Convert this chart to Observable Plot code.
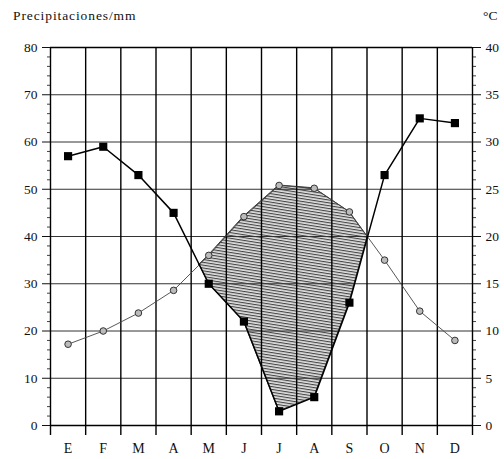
<!DOCTYPE html>
<html><head><meta charset="utf-8">
<script src="https://cdn.jsdelivr.net/npm/d3@7"></script>
<script src="https://cdn.jsdelivr.net/npm/@observablehq/plot@0.6"></script>
<style>
body{margin:0;background:#fff;}
#wrap{position:relative;width:504px;height:459px;}
.lbl{position:absolute;font-family:"Liberation Serif","Times New Roman","DejaVu Serif",serif;font-size:13.5px;color:#111;}
svg{position:absolute;left:0;top:0;}
</style></head>
<body><div id="wrap">
<div class="lbl" id="t1" style="left:13px;top:8px;letter-spacing:0.9px;">Precipitaciones/mm</div>
<div class="lbl" id="t2" style="left:483px;top:8px;">°C</div>
</div>
<script>
const months = ["E","F","M","A","M","J","J","A","S","O","N","D"];
const precip = [57,59,53,45,30,22,3,6,26,53,65,64];
const temp = [8.6,10,11.9,14.3,18,22.1,25.4,25.1,22.6,17.5,12.1,9];
const leftTicks = [0,10,20,30,40,50,60,70,80];

const rows = months.map((m,i)=>({x:i+0.5, m, p:precip[i], t2:temp[i]*2, t:temp[i]}));
const dry = [];
for (let i=0;i<rows.length;i++){
  const a = rows[i];
  if (a.t2 >= a.p) dry.push({x:a.x, p:a.p, t2:a.t2});
  if (i<rows.length-1){
    const b = rows[i+1];
    const da = a.t2-a.p, db = b.t2-b.p;
    if (da*db<0){
      const f = da/(da-db);
      const v = a.p + f*(b.p-a.p);
      dry.push({x:a.x+f, p:v, t2:v});
    }
  }
}
const FONT = "'Liberation Serif', 'Times New Roman', 'DejaVu Serif', serif";
const chart = Plot.plot({
  width:504, height:459,
  marginLeft:50, marginRight:32, marginTop:47, marginBottom:34,
  style:{fontFamily:FONT, fontSize:"13.5px", color:"#111", background:"transparent"},
  x:{domain:[0,12], axis:null},
  y:{domain:[0,80], axis:null},
  marks:[
    Plot.areaY(dry,{x:"x", y1:"p", y2:"t2", fill:"url(#hatch)", stroke:"#111", strokeWidth:0.8}),
    Plot.ruleY([10,20,30,40,50,60,70],{stroke:"#333", strokeWidth:1}),
    Plot.ruleY([0,80],{stroke:"#000", strokeWidth:1.6}),
    Plot.ruleX(d3.range(0,13),{y1:80,y2:0,stroke:"#000", strokeWidth:1.4}),
    Plot.axisX(d3.range(0,13),{tickSize:10, tickFormat:()=>"", label:null, stroke:"#000", strokeWidth:1.4}),
    Plot.text(rows,{x:"x", y:0, text:"m", dy:23, fontSize:14, fontFamily:FONT}),
    Plot.axisY(leftTicks,{anchor:"left", tickSize:8, tickPadding:5, tickFormat:d=>d, label:null, fontSize:13.5, fontFamily:FONT}),
    Plot.axisY(d3.range(0,81,2).filter(d=>d%10),{anchor:"left", tickSize:3, tickFormat:()=>"", label:null, strokeWidth:0.8}),
    Plot.axisY(leftTicks,{anchor:"right", tickSize:8, tickPadding:5, tickFormat:d=>d/2, label:null, fontSize:13.5, fontFamily:FONT}),
    Plot.axisY(d3.range(0,81,2).filter(d=>d%10),{anchor:"right", tickSize:3, tickFormat:()=>"", label:null, strokeWidth:0.8}),
    Plot.line(rows,{x:"x", y:"t2", stroke:"#444", strokeWidth:0.9}),
    Plot.dot(rows,{x:"x", y:"t2", r:3.3, fill:"#bbb", stroke:"#333", strokeWidth:1}),
    Plot.line(rows,{x:"x", y:"p", stroke:"#000", strokeWidth:1.5}),
    Plot.dot(rows,{x:"x", y:"p", symbol:"square", r:4.6, fill:"#000"})
  ]
});
const ns="http://www.w3.org/2000/svg";
const defs=document.createElementNS(ns,"defs");
defs.innerHTML=`<pattern id="hatch" width="6" height="2.8" patternUnits="userSpaceOnUse" patternTransform="rotate(9)">
<rect width="6" height="2.8" fill="#e0e0e0"/><rect y="0" width="6" height="1.1" fill="#444"/></pattern>`;
chart.insertBefore(defs, chart.firstChild);
document.getElementById("wrap").appendChild(chart);
</script>
</body></html>
